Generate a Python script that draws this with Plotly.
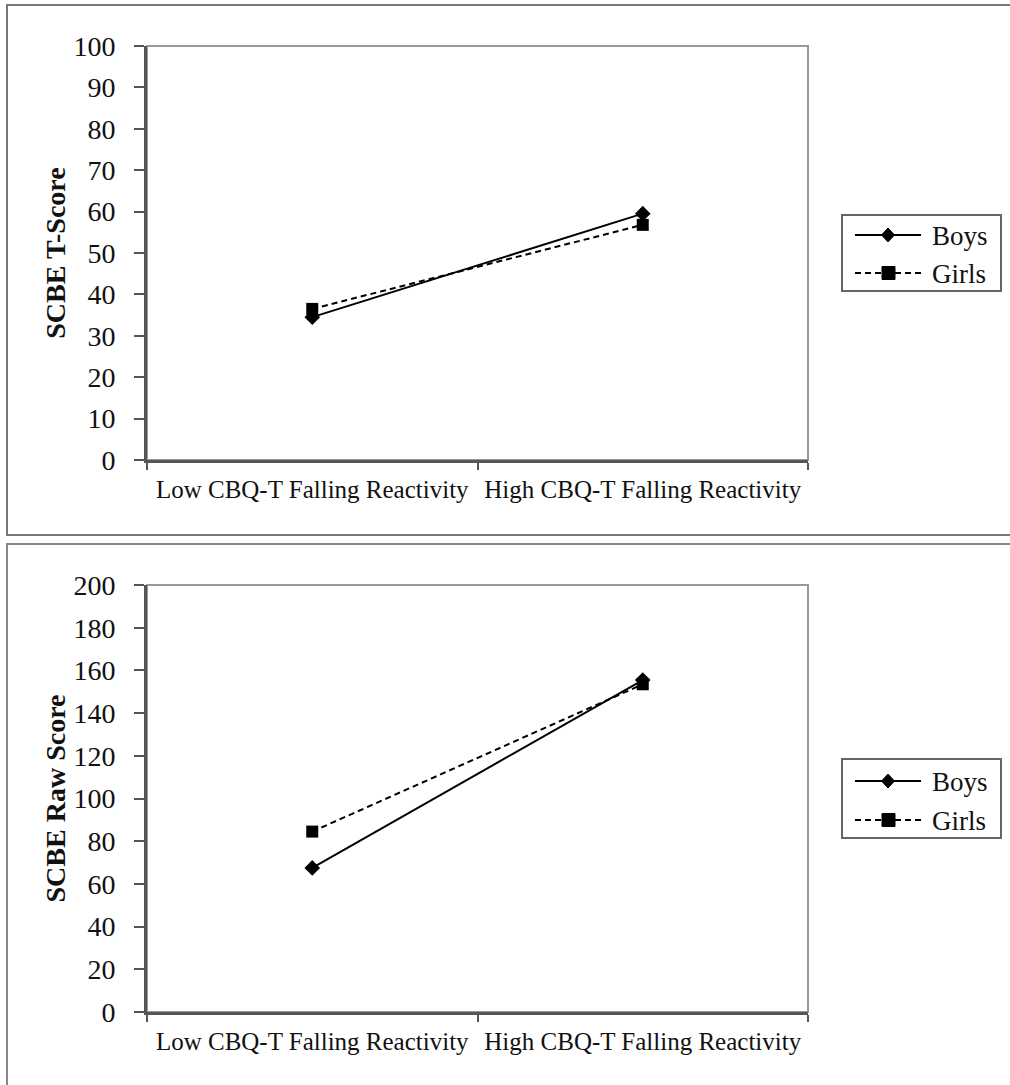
import plotly.graph_objects as go

categories = ["Low CBQ-T Falling Reactivity", "High CBQ-T Falling Reactivity"]
series_names = ["Boys", "Girls"]
boys_t = [34.5, 59.5]
girls_t = [36.5, 56.8]
boys_raw = [67.5, 155.5]
girls_raw = [84.5, 153.5]

W, H = 1010, 1085
FONT = "Liberation Serif, Times New Roman, serif"
DASH = "6px,4px"

def px(x):
    return x / W

def py(y):
    return 1 - y / H

fig = go.Figure()

panels = [
    (boys_t, girls_t, "x", "y"),
    (boys_raw, girls_raw, "x2", "y2"),
]
for boys, girls, xa, ya in panels:
    fig.add_trace(go.Scatter(
        x=categories, y=boys, name=series_names[0], xaxis=xa, yaxis=ya,
        mode="lines+markers", showlegend=False,
        line=dict(color="black", width=2, dash="solid"),
        marker=dict(symbol="diamond", size=12, color="black"),
    ))
    fig.add_trace(go.Scatter(
        x=categories, y=girls, name=series_names[1], xaxis=xa, yaxis=ya,
        mode="lines+markers", showlegend=False,
        line=dict(color="black", width=2, dash=DASH),
        marker=dict(symbol="square", size=12, color="black"),
    ))

xcommon = dict(
    type="category", range=[-0.5, 1.5], tickson="boundaries", ticks="outside",
    ticklen=7, tickwidth=2, tickcolor="#555", showline=True, linecolor="#555",
    linewidth=3, showgrid=False, zeroline=False, automargin=False,
    ticklabelstandoff=5,
    tickfont=dict(family=FONT, size=25, color="#111"),
)
ycommon = dict(
    ticks="outside", ticklen=10, tickwidth=2, tickcolor="#555", showline=True,
    linecolor="#555", linewidth=3, showgrid=False, zeroline=False, automargin=False,
    ticklabelstandoff=13,
    tickfont=dict(family=FONT, size=28, color="#111"),
    title_font=dict(family=FONT, size=28, color="#111"),
    title_standoff=0,
)

fig.update_layout(
    width=W, height=H,
    margin=dict(l=0, r=0, t=0, b=0, autoexpand=False),
    paper_bgcolor="white", plot_bgcolor="white",
    showlegend=False,
    xaxis=dict(domain=[px(147), px(808)], anchor="y", **xcommon),
    yaxis=dict(domain=[py(460), py(46)], anchor="x", range=[0, 100], dtick=10,
               title_text="<b>SCBE T-Score</b>", **ycommon),
    xaxis2=dict(domain=[px(147), px(808)], anchor="y2", **xcommon),
    yaxis2=dict(domain=[py(1012), py(585)], anchor="x2", range=[0, 200], dtick=20,
                title_text="<b>SCBE Raw Score</b>", **ycommon),
)

shapes = []
annotations = []
for xd, yd in [("x domain", "y domain"), ("x2 domain", "y2 domain")]:
    shapes.append(dict(type="rect", xref=xd, yref=yd, x0=0, x1=1, y0=0, y1=1,
                       line=dict(color="#999", width=2), layer="below"))
# panel frames
shapes.append(dict(type="rect", xref="paper", yref="paper",
                   x0=px(7), x1=px(1030), y0=py(535), y1=py(5),
                   line=dict(color="#777", width=2)))
shapes.append(dict(type="rect", xref="paper", yref="paper",
                   x0=px(7), x1=px(1030), y0=py(1110), y1=py(544),
                   line=dict(color="#888", width=2)))

# legends (one per panel)
for top, bottom, row1, row2 in [(215, 291, 235, 273), (759, 838, 781, 820)]:
    shapes.append(dict(type="rect", xref="paper", yref="paper",
                       x0=px(842), x1=px(1001), y0=py(bottom), y1=py(top),
                       line=dict(color="#666", width=2), fillcolor="white"))
    for i, (ry, dash, name) in enumerate([(row1, "solid", series_names[0]),
                                          (row2, DASH, series_names[1])]):
        shapes.append(dict(type="line", xref="paper", yref="paper",
                           x0=px(855), x1=px(921), y0=py(ry), y1=py(ry),
                           line=dict(color="black", width=2, dash=dash)))
        if i == 0:
            shapes.append(dict(type="path", xref="paper", yref="paper",
                               path=(f"M {px(881.5)},{py(ry)} L {px(888)},{py(ry - 7)} "
                                     f"L {px(894.5)},{py(ry)} L {px(888)},{py(ry + 7)} Z"),
                               fillcolor="black", line=dict(color="black", width=1)))
        else:
            shapes.append(dict(type="rect", xref="paper", yref="paper",
                               x0=px(882), x1=px(895), y0=py(ry + 6.5), y1=py(ry - 6.5),
                               fillcolor="black", line=dict(color="black", width=1)))
        annotations.append(dict(xref="paper", yref="paper", x=px(930), y=py(ry + 1),
                                xanchor="left", yanchor="middle", showarrow=False,
                                text=name, font=dict(family=FONT, size=27, color="#111")))

fig.update_layout(shapes=shapes, annotations=annotations)

fig.write_html(
    "out.html",
    config={"displayModeBar": False},
    post_script="document.body.style.margin='0';document.body.style.overflow='hidden';",
)
